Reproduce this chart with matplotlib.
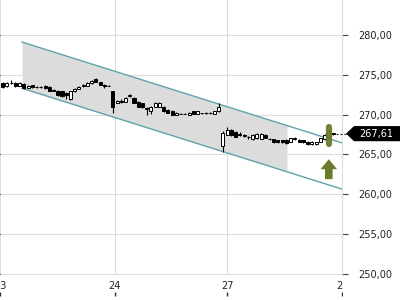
import matplotlib
matplotlib.use('Agg')
import matplotlib.pyplot as plt
from matplotlib.patches import Rectangle, Polygon
from matplotlib.transforms import IdentityTransform, blended_transform_factory

plt.rcParams['font.family'] = ['DejaVu Sans']

# ---- data ----
opens = [273.9, 273.6, 273.9, 274.0, 273.6, 273.8, 273.35, 273.7, 273.4, 273.45,
         273.6, 273.5, 273.0, 273.0, 272.9, 272.7, 271.9, 272.9, 273.25, 273.6,
         273.6, 273.9, 274.5, 274.1, 273.65, 273.6,
         272.9, 271.5, 271.6, 271.6, 272.35, 272.1, 271.6, 271.4, 270.8, 270.4,
         271.0, 271.0, 271.0, 270.6, 270.5, 270.0, 270.1, 270.1, 270.0, 270.4,
         270.1, 270.15, 270.15, 270.15, 270.1, 270.4,
         266.0, 267.5, 268.1, 267.85, 267.55, 267.4, 267.25, 266.9, 267.0, 266.95,
         267.5, 266.9, 266.9, 266.75, 266.75, 266.85, 266.6, 266.95, 266.85, 266.8,
         266.6, 266.25, 266.25, 266.6, 266.9, 267.25, 267.61]
closes = [273.5, 274.0, 273.95, 273.6, 274.0, 273.3, 273.6, 273.4, 273.45, 273.4,
          273.3, 273.0, 273.05, 272.4, 272.3, 272.4, 272.9, 273.25, 273.5, 273.65,
          274.0, 274.25, 274.1, 273.75, 273.6, 273.62,
          270.9, 271.75, 271.65, 272.1, 272.4, 271.5, 271.0, 270.9, 270.75, 271.0,
          271.5, 271.5, 270.4, 270.25, 270.0, 270.25, 270.12, 270.12, 270.25, 270.1,
          270.4, 270.17, 270.17, 270.17, 270.4, 271.0,
          267.75, 268.1, 267.4, 267.25, 267.5, 267.35, 267.2, 267.5, 267.6, 267.6,
          267.1, 266.92, 266.5, 266.5, 266.5, 266.4, 267.0, 267.0, 266.6, 266.5,
          266.3, 266.6, 266.55, 267.0, 267.5, 267.9, 267.61]
highs = [274.1, 274.1, 274.3, 274.1, 274.1, 273.9, 273.7, 273.75, 273.6, 273.55,
         273.65, 273.55, 273.15, 273.05, 272.95, 272.8, 273.0, 273.3, 273.6, 273.85,
         274.1, 274.35, 274.6, 274.15, 273.85, 273.65,
         273.0, 271.85, 271.9, 272.2, 272.6, 272.15, 271.65, 271.45, 270.9, 271.05,
         271.55, 271.55, 271.05, 270.65, 270.55, 270.3, 270.15, 270.15, 270.3, 270.45,
         270.45, 270.2, 270.3, 270.3, 270.45, 271.4,
         268.0, 268.5, 268.2, 267.9, 267.8, 267.6, 267.3, 267.55, 267.65, 267.65,
         267.55, 267.05, 266.95, 266.8, 266.8, 266.9, 267.05, 267.15, 266.9, 266.85,
         266.65, 266.65, 266.6, 267.05, 267.55, 268.0, 267.75]
lows = [273.3, 273.5, 273.8, 273.5, 273.6, 273.2, 273.3, 273.35, 273.3, 273.3,
        273.25, 272.95, 272.9, 272.35, 272.2, 272.0, 271.8, 272.85, 273.2, 273.45,
        273.55, 273.85, 274.05, 273.7, 273.35, 273.55,
        270.25, 271.45, 271.5, 271.55, 272.2, 271.45, 270.95, 270.85, 270.0, 270.1,
        270.95, 270.95, 270.35, 270.2, 269.95, 269.95, 270.05, 270.05, 269.95, 270.05,
        270.05, 270.1, 270.05, 270.05, 270.05, 270.35,
        265.25, 267.4, 267.35, 267.2, 267.3, 267.25, 266.9, 266.85, 266.95, 266.9,
        267.0, 266.8, 266.45, 266.45, 266.45, 266.35, 266.55, 266.85, 266.55, 266.4,
        266.2, 266.2, 266.2, 266.55, 266.85, 267.2, 267.5]

day_labels = ['23', '24', '27', '28']
day_ticks = [-0.64, 26.5, 53.0, 80.12]
y_ticks = [250, 255, 260, 265, 270, 275, 280]
last_price = 267.61

channel_x = [4.56, 80.12]
channel_upper = [279.1, 266.45]
channel_lower = [273.3, 260.65]
shade_end = 67.13

signal_idx = 77
signal_bar = [266.0, 268.75]
arrow_base, arrow_top = 261.9, 264.4

# ---- figure ----
fig = plt.figure(figsize=(4, 3), dpi=100)
ax = fig.add_axes([0, 25 / 300, 342 / 400, 275 / 300])
ax.set_xlim(-0.64, 80.12)
ax.set_ylim(249.875, 284.375)
for s in ax.spines.values():
    s.set_visible(False)

ax.set_xticks(day_ticks)
ax.set_xticklabels(day_labels)
ax.set_yticks(y_ticks)
ax.tick_params(axis='x', length=0, pad=4, labelsize=7, labelcolor='#222222')
ax.tick_params(axis='y', left=False, labelleft=False)
ax.grid(True, color='#dddddd', lw=0.8)
ax.vlines(day_ticks, -0.0764, -0.0618, transform=ax.get_xaxis_transform(),
          clip_on=False, colors='#333333', lw=1)

# channel
def interp(x, xs, ys):
    return ys[0] + (ys[1] - ys[0]) * (x - xs[0]) / (xs[1] - xs[0])

sx = [channel_x[0], shade_end]
ax.fill_between(sx, [interp(v, channel_x, channel_lower) for v in sx],
                [interp(v, channel_x, channel_upper) for v in sx],
                color='#dcdcdc', lw=0, zorder=1)
ax.plot(channel_x, channel_upper, color='#5fa3aa', lw=1, zorder=2)
ax.plot(channel_x, channel_lower, color='#5fa3aa', lw=1, zorder=2)

# candles
xs = list(range(len(opens)))
ax.vlines(xs, lows, highs, colors='black', lw=0.8, zorder=3)
heights = [c - o if abs(c - o) > 0.02 else 0.02 for o, c in zip(opens, closes)]
colors = ['white' if c >= o else 'black' for o, c in zip(opens, closes)]
ax.bar(xs, heights, bottom=opens, width=0.72, color=colors, edgecolor='black',
       lw=0.7, zorder=4)

# signal
olive = '#6b7d2c'
ax.plot([signal_idx, signal_idx], [signal_bar[0] + 0.35, signal_bar[1] - 0.35],
        color=olive, lw=4.5, solid_capstyle='round', zorder=5, alpha=0.95)
ax.arrow(signal_idx, arrow_base, 0, arrow_top - arrow_base, width=1.8,
         head_width=3.9, head_length=1.25, length_includes_head=True,
         color=olive, lw=0, zorder=5)

# white panel to the right
fig.add_artist(Rectangle((343, 0), 57, 300, transform=IdentityTransform(),
                         facecolor='white', edgecolor='none', zorder=1))

ax2 = ax.twinx()
ax2.set_zorder(2)
ax2.patch.set_visible(False)
ax2.set_ylim(ax.get_ylim())
for s in ax2.spines.values():
    s.set_visible(False)
ax2.spines['right'].set_visible(True)
ax2.spines['right'].set_color('#dddddd')
ax2.set_yticks(y_ticks)
ax2.set_yticklabels([f"{v:.2f}".replace('.', ',') for v in y_ticks])
ax2.tick_params(axis='y', length=4, width=0.8, color='#444444', pad=8,
                labelsize=7, labelcolor='#222222')

# last price marker
trans = blended_transform_factory(IdentityTransform(), ax2.transData)
h = 0.95
ax2.add_patch(Polygon([(346, last_price), (354, last_price + h), (400, last_price + h),
                       (400, last_price - h), (354, last_price - h)],
                      closed=True, transform=trans, facecolor='black',
                      edgecolor='none', clip_on=False, zorder=6))
ax2.text(376, last_price, f"{last_price:.2f}".replace('.', ','), transform=trans,
         ha='center', va='center', color='white', fontsize=7, zorder=7,
         clip_on=False)
ax2.plot([336, 346], [last_price, last_price], transform=trans, color='#333333',
         lw=0.8, dashes=(2, 1.5), clip_on=False, zorder=6)

fig.savefig('out.png', dpi=100)
